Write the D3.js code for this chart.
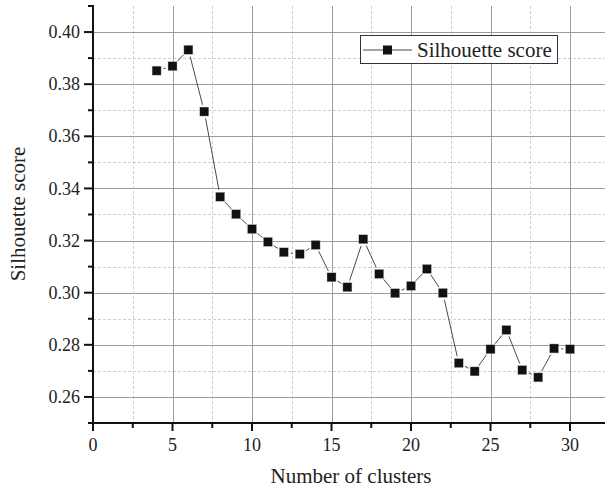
<!DOCTYPE html>
<html>
<head>
<meta charset="utf-8">
<script src="https://cdn.jsdelivr.net/npm/d3@7"></script>
<style>
  html, body { margin: 0; padding: 0; background: #fff; }
  svg { display: block; }
</style>
</head>
<body>
<svg id="chart" width="605" height="489"></svg>
<script>
// Silhouette score for each number of clusters
const clusters = [4, 5, 6, 7, 8, 9, 10, 11, 12, 13, 14, 15, 16, 17, 18, 19, 20, 21, 22, 23, 24, 25, 26, 27, 28, 29, 30];
const scores = [0.3852, 0.3869, 0.3932, 0.3695, 0.3368, 0.3301, 0.3244, 0.3195, 0.3155, 0.3148, 0.3183,
                0.3059, 0.3021, 0.3205, 0.3072, 0.2998, 0.3026, 0.3091, 0.2999, 0.2730, 0.2698, 0.2783,
                0.2857, 0.2703, 0.2675, 0.2786, 0.2783];
const xMajorTicks = [0, 5, 10, 15, 20, 25, 30];
const xMinorTicks = [2.5, 7.5, 12.5, 17.5, 22.5, 27.5];
const yMajorTicks = [0.26, 0.28, 0.30, 0.32, 0.34, 0.36, 0.38, 0.40];
const yMinorTicks = [0.25, 0.27, 0.29, 0.31, 0.33, 0.35, 0.37, 0.39, 0.41];
const seriesName = "Silhouette score";
const xTitle = "Number of clusters";
const yTitle = "Silhouette score";

const FONT = "'Liberation Serif', 'DejaVu Serif', serif";

const svg = d3.select("#chart");
const plotL = 93, plotR = 605, plotT = 6, plotB = 423;

const x = d3.scaleLinear().domain([0, 32.2]).range([plotL, plotR]);
const y = d3.scaleLinear().domain([0.25, 0.41]).range([plotB, plotT]);

// grid: dashed minor lines, solid major lines
const grid = svg.append("g");
grid.selectAll(".vminor").data(xMinorTicks).join("line")
  .attr("x1", d => Math.round(x(d)) + 0.5).attr("x2", d => Math.round(x(d)) + 0.5)
  .attr("y1", plotT).attr("y2", plotB)
  .attr("stroke", "#cfcfcf").attr("stroke-width", 1).attr("stroke-dasharray", "3,2");
grid.selectAll(".hminor").data(yMinorTicks.filter(d => d > 0.25 && d < 0.41)).join("line")
  .attr("x1", plotL).attr("x2", plotR)
  .attr("y1", d => Math.round(y(d)) + 0.5).attr("y2", d => Math.round(y(d)) + 0.5)
  .attr("stroke", "#cfcfcf").attr("stroke-width", 1).attr("stroke-dasharray", "3,2");
grid.selectAll(".vmajor").data(xMajorTicks.filter(d => d > 0)).join("line")
  .attr("x1", d => Math.round(x(d)) + 0.5).attr("x2", d => Math.round(x(d)) + 0.5)
  .attr("y1", plotT).attr("y2", plotB)
  .attr("stroke", "#9c9c9c").attr("stroke-width", 1);
grid.selectAll(".hmajor").data(yMajorTicks).join("line")
  .attr("x1", plotL).attr("x2", plotR)
  .attr("y1", d => Math.round(y(d)) + 0.5).attr("y2", d => Math.round(y(d)) + 0.5)
  .attr("stroke", "#9c9c9c").attr("stroke-width", 1);

// connecting segments, trimmed so they stop short of each marker
const pts = clusters.map((c, i) => [x(c), y(scores[i])]);
const gap = 7;
const segs = d3.pairs(pts).map(([a, b]) => {
  const dx = b[0] - a[0], dy = b[1] - a[1];
  const len = Math.hypot(dx, dy);
  const ux = dx / len, uy = dy / len;
  return [a[0] + ux * gap, a[1] + uy * gap, b[0] - ux * gap, b[1] - uy * gap, len];
}).filter(s => s[4] > 2 * gap);
svg.append("g").selectAll("line").data(segs).join("line")
  .attr("x1", d => d[0]).attr("y1", d => d[1]).attr("x2", d => d[2]).attr("y2", d => d[3])
  .attr("stroke", "#4a4a4a").attr("stroke-width", 1);

// square markers
const ms = 9;
svg.append("g").selectAll("rect").data(clusters).join("rect")
  .attr("x", (d, i) => x(d) - ms / 2).attr("y", (d, i) => y(scores[i]) - ms / 2)
  .attr("width", ms).attr("height", ms)
  .attr("fill", "#111").attr("stroke", "#bbb").attr("stroke-width", 0.4);

// axes
const axes = svg.append("g").attr("stroke", "#111");
axes.append("line").attr("x1", plotL).attr("x2", plotL).attr("y1", plotT - 1).attr("y2", plotB + 1).attr("stroke-width", 2);
axes.append("line").attr("x1", plotL - 5).attr("x2", plotR).attr("y1", plotB).attr("y2", plotB).attr("stroke-width", 2);
axes.selectAll(".ytm").data(yMajorTicks).join("line")
  .attr("x1", plotL - 9).attr("x2", plotL).attr("y1", d => y(d)).attr("y2", d => y(d)).attr("stroke-width", 2);
axes.selectAll(".ytn").data(yMinorTicks).join("line")
  .attr("x1", plotL - 5).attr("x2", plotL).attr("y1", d => y(d)).attr("y2", d => y(d)).attr("stroke-width", 2);
axes.selectAll(".xtm").data(xMajorTicks).join("line")
  .attr("x1", d => x(d)).attr("x2", d => x(d)).attr("y1", plotB).attr("y2", plotB + 8).attr("stroke-width", 2);
axes.selectAll(".xtn").data(xMinorTicks).join("line")
  .attr("x1", d => x(d)).attr("x2", d => x(d)).attr("y1", plotB).attr("y2", plotB + 5).attr("stroke-width", 2);

// tick labels
svg.append("g").selectAll("text").data(yMajorTicks).join("text")
  .attr("x", 80).attr("y", d => y(d)).attr("dy", "0.34em")
  .attr("text-anchor", "end").attr("font-size", 18)
  .style("font-family", FONT).attr("fill", "#222")
  .text(d => d3.format(".2f")(d));
svg.append("g").selectAll("text").data(xMajorTicks).join("text")
  .attr("x", d => x(d)).attr("y", 451)
  .attr("text-anchor", "middle").attr("font-size", 18)
  .style("font-family", FONT).attr("fill", "#222")
  .text(d => d);

// axis titles
svg.append("text").attr("x", 351).attr("y", 483)
  .attr("text-anchor", "middle").attr("font-size", 21)
  .style("font-family", FONT).attr("fill", "#222").text(xTitle);
svg.append("text").attr("transform", "translate(25,214) rotate(-90)")
  .attr("text-anchor", "middle").attr("font-size", 21)
  .style("font-family", FONT).attr("fill", "#222").text(yTitle);

// legend
const lg = svg.append("g");
lg.append("rect").attr("x", 360.5).attr("y", 35.5).attr("width", 197).attr("height", 28)
  .attr("fill", "#fff").attr("stroke", "#333").attr("stroke-width", 1);
lg.append("line").attr("x1", 363).attr("x2", 412).attr("y1", 50).attr("y2", 50)
  .attr("stroke", "#4a4a4a").attr("stroke-width", 1);
lg.append("rect").attr("x", 387.5 - 4.5).attr("y", 50 - 4.5).attr("width", 9).attr("height", 9).attr("fill", "#111");
lg.append("text").attr("x", 417).attr("y", 57).attr("font-size", 21)
  .style("font-family", FONT).attr("fill", "#222").text(seriesName);
</script>
</body>
</html>
